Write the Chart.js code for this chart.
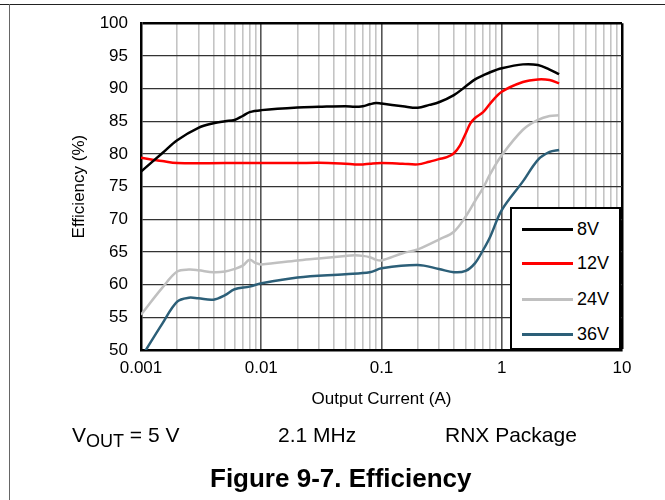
<!DOCTYPE html>
<html>
<head>
<meta charset="utf-8">
<script src="https://cdn.jsdelivr.net/npm/chart.js@4/dist/chart.umd.min.js"></script>
<style>
  body { margin: 0; background: #fff; font-family: "Liberation Sans", Arial, sans-serif; }
  #wrap { position: relative; width: 665px; height: 500px; overflow: hidden; }
  #c { position: absolute; left: 0; top: 0; }
  .frame-top { position: absolute; left: 0; top: 4px; width: 665px; height: 1px; background: #222; }
  .frame-left { position: absolute; left: 9px; top: 4px; width: 1px; height: 496px; background: #666; }
  #legend { position: absolute; left: 510px; top: 207px; width: 107px; height: 139px;
            border: 2.5px solid #000; background: #fff; }
  .item { position: absolute; left: 10px; height: 20px; font-size: 18px; line-height: 20px; }
  .item .swatch { position: absolute; left: 0; top: 9px; width: 51px; height: 2.5px; }
  .item .lbl { position: absolute; left: 55px; top: 0; color: #000; }
  .cap { position: absolute; font-size: 21px; line-height: 21px; color: #000; white-space: nowrap; }
  .cap sub { font-size: 18px; vertical-align: -5px; line-height: 0; }
  .title { position: absolute; left: 0; width: 665px; font-size: 26px; line-height: 26px; font-weight: bold; white-space: nowrap; }
</style>
</head>
<body>
<div id="wrap">
  <canvas id="c" width="665" height="500"></canvas>
  <div class="frame-top"></div>
  <div class="frame-left"></div>
  <div id="legend"></div>
  <div class="cap" style="left:72px; top:424px;">V<sub>OUT</sub> = 5 V</div>
  <div class="cap" style="left:278px; top:424px;">2.1 MHz</div>
  <div class="cap" style="left:445px; top:424px;">RNX Package</div>
  <div class="title" style="left:210px; top:465px;">Figure 9-7. Efficiency</div>
</div>
<script>
// output current points (A) and efficiency (%)
var current8 = [0.001, 0.0015, 0.002, 0.003, 0.004, 0.005, 0.006, 0.007, 0.008, 0.01, 0.02, 0.03, 0.05, 0.06, 0.07, 0.08, 0.09, 0.1, 0.15, 0.2, 0.25, 0.3, 0.4, 0.5, 0.6, 0.7, 0.8, 1, 1.5, 2, 2.5, 3];
var eff8 = [77.3, 80.1, 82.1, 84.0, 84.7, 85.0, 85.2, 85.8, 86.4, 86.7, 87.1, 87.2, 87.3, 87.2, 87.3, 87.6, 87.8, 87.7, 87.3, 87.05, 87.5, 87.9, 89.0, 90.3, 91.4, 92.0, 92.5, 93.1, 93.7, 93.6, 92.9, 92.2];

var current12 = [0.001, 0.0015, 0.002, 0.005, 0.01, 0.02, 0.03, 0.05, 0.06, 0.07, 0.08, 0.1, 0.15, 0.2, 0.25, 0.3, 0.35, 0.4, 0.45, 0.5, 0.55, 0.6, 0.7, 0.8, 1, 1.5, 2, 2.5, 3];
var eff12 = [79.4, 78.9, 78.6, 78.6, 78.6, 78.6, 78.65, 78.5, 78.4, 78.4, 78.5, 78.6, 78.5, 78.4, 78.8, 79.2, 79.5, 80.1, 81.3, 83.1, 84.7, 85.5, 86.4, 87.7, 89.5, 91.0, 91.4, 91.3, 90.8];

var current24 = [0.001, 0.0015, 0.002, 0.0025, 0.003, 0.004, 0.005, 0.006, 0.007, 0.008, 0.009, 0.01, 0.02, 0.03, 0.05, 0.06, 0.07, 0.08, 0.09, 0.1, 0.15, 0.2, 0.3, 0.4, 0.5, 0.6, 0.7, 0.8, 1, 1.5, 2, 2.5, 3];
var eff24 = [55.4, 59.5, 62.0, 62.3, 62.2, 61.9, 62.0, 62.4, 62.9, 63.8, 63.3, 63.1, 63.7, 64.0, 64.4, 64.5, 64.4, 64.2, 63.8, 63.7, 64.8, 65.4, 66.9, 68.1, 70.4, 72.8, 74.8, 76.9, 79.8, 83.7, 85.2, 85.8, 85.9];

var current36 = [0.001, 0.0015, 0.002, 0.0025, 0.003, 0.004, 0.005, 0.006, 0.008, 0.01, 0.02, 0.05, 0.08, 0.1, 0.2, 0.3, 0.4, 0.5, 0.6, 0.7, 0.8, 1, 1.5, 2, 2.5, 3];
var eff36 = [48.8, 54.0, 57.4, 58.0, 57.9, 57.7, 58.4, 59.3, 59.7, 60.2, 61.1, 61.6, 61.9, 62.5, 63.0, 62.4, 61.9, 62.1, 63.3, 65.3, 67.3, 71.4, 75.8, 79.1, 80.3, 80.6];

var seriesNames = ['8V', '12V', '24V', '36V'];
var seriesColors = ['#000000', '#ff0000', '#c0c0c0', '#2c5f78'];

// axis ticks
var decadeTicks = [0.001, 0.01, 0.1, 1, 10];
var yTicks = [50, 55, 60, 65, 70, 75, 80, 85, 90, 95, 100];

// minor ticks 1..9 per decade
var xTickValues = [];
for (var d = 0; d < decadeTicks.length - 1; d++) {
    for (var m = 1; m <= 9; m++) {
        xTickValues.push(parseFloat((decadeTicks[d] * m).toPrecision(6)));
    }
}
xTickValues.push(10);

function toPoints(xs, ys) {
    return xs.map(function (x, i) { return { x: x, y: ys[i] }; });
}

var allCurrents = [current8, current12, current24, current36];
var allEff = [eff8, eff12, eff24, eff36];

var datasets = seriesNames.map(function (name, i) {
    return {
        label: name,
        data: toPoints(allCurrents[i], allEff[i]),
        borderColor: seriesColors[i],
        backgroundColor: seriesColors[i],
        borderWidth: 2.5,
        pointRadius: 0,
        showLine: true,
        fill: false,
        tension: 0.35
    };
});

var fontFamily = '"Liberation Sans", Arial, sans-serif';

var ctx = document.getElementById('c').getContext('2d');
var chart = new Chart(ctx, {
    type: 'scatter',
    data: { datasets: datasets },
    options: {
        responsive: false,
        animation: false,
        layout: { padding: { left: 60, top: 23, right: 43, bottom: 85 } },
        plugins: {
            legend: { display: false },
            tooltip: { enabled: false }
        },
        scales: {
            x: {
                type: 'logarithmic',
                min: 0.001,
                max: 10,
                afterBuildTicks: function (scale) {
                    scale.ticks = xTickValues.map(function (v) { return { value: v }; });
                },
                afterFit: function (scale) { scale.height = 65; },
                ticks: {
                    autoSkip: false,
                    maxRotation: 0,
                    minRotation: 0,
                    padding: 8,
                    color: '#000',
                    font: { family: fontFamily, size: 17 },
                    callback: function (v) {
                        return decadeTicks.indexOf(v) >= 0 ? String(v) : '';
                    }
                },
                grid: {
                    drawTicks: false,
                    tickLength: 0,
                    color: function (c) {
                        var v = c.tick ? c.tick.value : 0;
                        if (v === 10) return '#000';
                        return decadeTicks.indexOf(v) >= 0 ? '#555555' : '#c4c4c4';
                    },
                    lineWidth: function (c) {
                        var v = c.tick ? c.tick.value : 0;
                        return v === 10 ? 2.5 : 1.6;
                    }
                },
                border: { color: '#000', width: 2.5 },
                title: {
                    display: true,
                    text: 'Output Current (A)',
                    color: '#000',
                    font: { family: fontFamily, size: 17 },
                    padding: { top: 0, bottom: 5 }
                }
            },
            y: {
                min: 50,
                max: 100,
                afterBuildTicks: function (scale) {
                    scale.ticks = yTicks.map(function (v) { return { value: v }; });
                },
                afterFit: function (scale) { scale.width = 81; },
                ticks: {
                    padding: 13,
                    color: '#000',
                    font: { family: fontFamily, size: 17 }
                },
                grid: {
                    drawTicks: false,
                    tickLength: 0,
                    color: function (c) {
                        var v = c.tick ? c.tick.value : 0;
                        return v === 100 ? '#000' : '#333333';
                    },
                    lineWidth: function (c) {
                        var v = c.tick ? c.tick.value : 0;
                        return v === 100 ? 2.5 : 1.3;
                    }
                },
                border: { color: '#000', width: 2.5 },
                title: {
                    display: true,
                    text: 'Efficiency (%)',
                    color: '#000',
                    font: { family: fontFamily, size: 17 },
                    padding: { top: 9, bottom: 0 }
                }
            }
        }
    }
});

// legend box inside the plot, built from the datasets
var legendRows = [20, 54, 90, 125];
var legend = document.getElementById('legend');
chart.data.datasets.forEach(function (ds, i) {
    var item = document.createElement('div');
    item.className = 'item';
    item.style.top = (legendRows[i] - 10) + 'px';
    item.innerHTML = '<div class="swatch" style="background:' + ds.borderColor + '"></div>' +
        '<span class="lbl">' + ds.label + '</span>';
    legend.appendChild(item);
});
</script>
</body>
</html>
